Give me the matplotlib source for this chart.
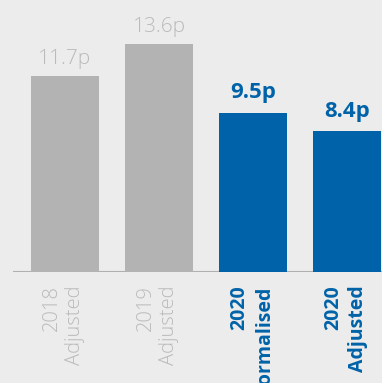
import matplotlib
matplotlib.use("Agg")
import matplotlib.pyplot as plt

# Dividend per share, pence
years = ["2018", "2019", "2020", "2020"]
bases = ["Adjusted", "Adjusted", "Normalised", "Adjusted"]
values = [11.7, 13.6, 9.5, 8.4]
highlight = [False, False, True, True]

BG = "#ececec"
GREY_BAR = "#b3b3b3"
GREY_TEXT = "#bababa"
BLUE = "#0062a8"
AXIS = "#b0b0b0"
FONT = "Open Sans"

fig = plt.figure(figsize=(3.82, 3.83), dpi=100, facecolor=BG)
ax = fig.add_axes([13 / 382, 111 / 383, 369 / 382, 272 / 383])
ax.set_facecolor(BG)

xs = list(range(len(values)))
colors = [BLUE if h else GREY_BAR for h in highlight]
ax.bar(xs, values, width=68 / 94, color=colors, zorder=3)
ax.axhline(0, color=AXIS, lw=1.5, zorder=2)

ax.set_xlim(-52 / 94, 3 + 35 / 94)
ax.set_ylim(0, 272 / 16.75)
ax.axis("off")

for x, v, h, yr, b in zip(xs, values, highlight, years, bases):
    col = BLUE if h else GREY_TEXT
    wt = "bold" if h else "light"
    fs = 16 if h else 15
    ax.annotate(f"{v}p", xy=(x, v), xytext=(0, 7 if h else 5), textcoords="offset points",
                ha="center", va="bottom", fontsize=fs, color=col,
                fontweight=wt, family=FONT, annotation_clip=False)
    ax.annotate(f"{yr}\n{b}", xy=(x, 0), xytext=(-1, -9.5), textcoords="offset points",
                ha="center", va="top", rotation=90, multialignment="right",
                fontsize=14 if h else 14.5, color=col, fontweight=wt, family=FONT,
                linespacing=1.3 if h else 1.25, annotation_clip=False)

fig.savefig("out.png", dpi=100, facecolor=BG)
